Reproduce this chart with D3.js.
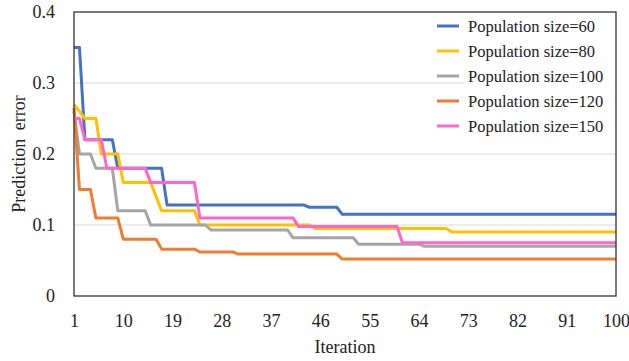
<!DOCTYPE html>
<html>
<head>
<meta charset="utf-8">
<script src="https://cdn.jsdelivr.net/npm/d3@7/dist/d3.min.js"></script>
<style>
  body { margin: 0; background: #fff; }
  svg { display: block; }
</style>
</head>
<body>
<div id="chart"></div>
<script>
const WIDTH = 629
const HEIGHT = 361
const MARGIN = { top: 12, right: 13, bottom: 65, left: 74 }
const FONT = "'Liberation Serif', 'Times New Roman', Times, serif"

// iterations 1..100
const iterations = d3.range(1, 101)
const xTicks = [1, 10, 19, 28, 37, 46, 55, 64, 73, 82, 91, 100]
const yTicks = [0, 0.1, 0.2, 0.3, 0.4]

const seriesNames = ['Population size=60', 'Population size=80', 'Population size=100', 'Population size=120', 'Population size=150']
const seriesColors = ['#4472c4', '#ffc000', '#a5a5a5', '#ed7d31', '#ff66cc']

const pop60 = [
  .35, .35, .22, .22, .22, .22, .22, .22, .18, .18,
  .18, .18, .18, .18, .18, .18, .18, .128, .128, .128,
  .128, .128, .128, .128, .128, .128, .128, .128, .128, .128,
  .128, .128, .128, .128, .128, .128, .128, .128, .128, .128,
  .128, .128, .128, .125, .125, .125, .125, .125, .125, .115,
  .115, .115, .115, .115, .115, .115, .115, .115, .115, .115,
  .115, .115, .115, .115, .115, .115, .115, .115, .115, .115,
  .115, .115, .115, .115, .115, .115, .115, .115, .115, .115,
  .115, .115, .115, .115, .115, .115, .115, .115, .115, .115,
  .115, .115, .115, .115, .115, .115, .115, .115, .115, .115
]
const pop80 = [
  .27, .26, .25, .25, .25, .2, .2, .2, .2, .16,
  .16, .16, .16, .16, .16, .14, .12, .12, .12, .12,
  .12, .12, .12, .1, .1, .1, .1, .1, .1, .1,
  .1, .1, .1, .1, .1, .1, .1, .1, .1, .1,
  .1, .1, .1, .1, .095, .095, .095, .095, .095, .095,
  .095, .095, .095, .095, .095, .095, .095, .095, .095, .095,
  .095, .095, .095, .095, .095, .095, .095, .095, .095, .09,
  .09, .09, .09, .09, .09, .09, .09, .09, .09, .09,
  .09, .09, .09, .09, .09, .09, .09, .09, .09, .09,
  .09, .09, .09, .09, .09, .09, .09, .09, .09, .09
]
const pop100 = [
  .26, .2, .2, .2, .18, .18, .18, .18, .12, .12,
  .12, .12, .12, .12, .1, .1, .1, .1, .1, .1,
  .1, .1, .1, .1, .1, .093, .093, .093, .093, .093,
  .093, .093, .093, .093, .093, .093, .093, .093, .093, .093,
  .082, .082, .082, .082, .082, .082, .082, .082, .082, .082,
  .082, .082, .073, .073, .073, .073, .073, .073, .073, .073,
  .073, .073, .073, .073, .07, .07, .07, .07, .07, .07,
  .07, .07, .07, .07, .07, .07, .07, .07, .07, .07,
  .07, .07, .07, .07, .07, .07, .07, .07, .07, .07,
  .07, .07, .07, .07, .07, .07, .07, .07, .07, .07
]
const pop120 = [
  .265, .15, .15, .15, .11, .11, .11, .11, .11, .08,
  .08, .08, .08, .08, .08, .08, .066, .066, .066, .066,
  .066, .066, .066, .062, .062, .062, .062, .062, .062, .062,
  .059, .059, .059, .059, .059, .059, .059, .059, .059, .059,
  .059, .059, .059, .059, .059, .059, .059, .059, .059, .052,
  .052, .052, .052, .052, .052, .052, .052, .052, .052, .052,
  .052, .052, .052, .052, .052, .052, .052, .052, .052, .052,
  .052, .052, .052, .052, .052, .052, .052, .052, .052, .052,
  .052, .052, .052, .052, .052, .052, .052, .052, .052, .052,
  .052, .052, .052, .052, .052, .052, .052, .052, .052, .052
]
const pop150 = [
  .25, .25, .22, .22, .22, .22, .18, .18, .18, .18,
  .18, .18, .18, .18, .16, .16, .16, .16, .16, .16,
  .16, .16, .16, .11, .11, .11, .11, .11, .11, .11,
  .11, .11, .11, .11, .11, .11, .11, .11, .11, .11,
  .11, .098, .098, .098, .098, .098, .098, .098, .098, .098,
  .098, .098, .098, .098, .098, .098, .098, .098, .098, .098,
  .075, .075, .075, .075, .075, .075, .075, .075, .075, .075,
  .075, .075, .075, .075, .075, .075, .075, .075, .075, .075,
  .075, .075, .075, .075, .075, .075, .075, .075, .075, .075,
  .075, .075, .075, .075, .075, .075, .075, .075, .075, .075
]
const seriesValues = [pop60, pop80, pop100, pop120, pop150]

// ── Scales ───────────────────────────────────────────────────────────────
const x = d3.scaleLinear().domain([1, 100]).range([MARGIN.left, WIDTH - MARGIN.right])
const y = d3.scaleLinear().domain([0, 0.4]).range([HEIGHT - MARGIN.bottom, MARGIN.top])

const svg = d3.select('#chart').append('svg')
  .attr('width', WIDTH)
  .attr('height', HEIGHT)
  .style('background', '#fff')

// ── Grid ─────────────────────────────────────────────────────────────────
svg.append('g')
  .selectAll('line')
  .data(yTicks.filter(t => t > 0 && t < 0.4))
  .join('line')
  .attr('x1', x(1)).attr('x2', x(100))
  .attr('y1', d => y(d)).attr('y2', d => y(d))
  .attr('stroke', '#d9d9d9')
  .attr('stroke-width', 1.2)

// ── Axes (labels only, frame drawn below) ────────────────────────────────
const xAxis = svg.append('g')
  .attr('transform', `translate(0,${y(0)})`)
  .call(d3.axisBottom(x).tickValues(xTicks).tickSize(0).tickPadding(18).tickFormat(d3.format('d')))
xAxis.select('.domain').remove()
xAxis.selectAll('text').style('font-family', FONT).style('font-size', '18px').attr('fill', '#222')

const yAxis = svg.append('g')
  .attr('transform', `translate(${x(1)},0)`)
  .call(d3.axisLeft(y).tickValues(yTicks).tickSize(0).tickPadding(19).tickFormat(d => d === 0 ? '0' : d3.format('.1f')(d)))
yAxis.select('.domain').remove()
yAxis.selectAll('text').style('font-family', FONT).style('font-size', '18px').attr('fill', '#222')

// ── Lines ────────────────────────────────────────────────────────────────
const line = d3.line()
  .x((d, i) => x(iterations[i]))
  .y(d => y(d))

svg.append('g')
  .selectAll('path')
  .data(seriesValues)
  .join('path')
  .attr('d', d => line(d))
  .attr('fill', 'none')
  .attr('stroke', (d, i) => seriesColors[i])
  .attr('stroke-width', 3)
  .attr('stroke-linejoin', 'round')

// ── Titles ───────────────────────────────────────────────────────────────
svg.append('text')
  .attr('x', 345).attr('y', 353)
  .attr('text-anchor', 'middle')
  .style('font-family', FONT).style('font-size', '18px').attr('fill', '#222')
  .text('Iteration')

svg.append('text')
  .attr('transform', `translate(25,${(y(0) + y(0.4)) / 2}) rotate(-90)`)
  .attr('text-anchor', 'middle')
  .style('font-family', FONT).style('font-size', '18px').attr('fill', '#222')
  .style('word-spacing', '4px')
  .text('Prediction error')

// ── Legend ───────────────────────────────────────────────────────────────
const legend = svg.append('g').attr('transform', 'translate(437, 26)')
legend.append('rect')
  .attr('x', 28).attr('y', -12).attr('width', 150).attr('height', 124)
  .attr('fill', '#fff')
seriesNames.forEach((name, i) => {
  legend.append('line')
    .attr('x1', 0).attr('x2', 22)
    .attr('y1', i * 25).attr('y2', i * 25)
    .attr('stroke', seriesColors[i]).attr('stroke-width', 3)
  legend.append('text')
    .attr('x', 31).attr('y', i * 25).attr('dy', '0.35em')
    .style('font-family', FONT).style('font-size', '16.5px').attr('fill', '#222')
    .text(name)
})

// ── Frame (drawn last so the legend box does not hide it) ────────────────
svg.append('rect')
  .attr('x', x(1)).attr('y', y(0.4))
  .attr('width', x(100) - x(1)).attr('height', y(0) - y(0.4))
  .attr('fill', 'none')
  .attr('stroke', '#333')
  .attr('stroke-width', 1.3)
</script>
</body>
</html>
